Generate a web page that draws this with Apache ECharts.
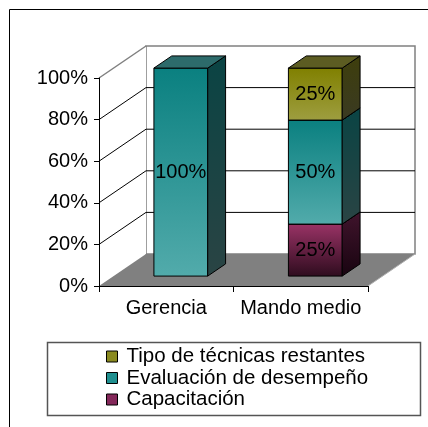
<!DOCTYPE html>
<html>
<head>
<meta charset="utf-8">
<script src="https://cdn.jsdelivr.net/npm/echarts@6/dist/echarts.min.js"></script>
<style>html,body{margin:0;padding:0;background:#fff;}#c{width:428px;height:427px;}</style>
</head>
<body>
<div id="c"></div>
<script>
var categories = ['Gerencia', 'Mando medio'];
var capacitacion = [0, 25];
var evaluacion = [100, 50];
var tipo = [0, 25];
var yTicks = [0, 20, 40, 60, 80, 100];
var seriesNames = ['Capacitación', 'Evaluación de desempeño', 'Tipo de técnicas restantes'];

var FONT = '"Liberation Sans", Arial, sans-serif';
var DEPTH = [47, -32];
var FRONT = 0.31, BACK = 0.69, BARW = 0.40;

var palettes = [
  { legend: '#84285a', front: ['#9a3366', '#2e0c1e'], side: ['#40142c', '#180410'], top: '#5a1c3c' },
  { legend: '#1f8f8f', front: ['#0a8080', '#52abab'], side: ['#0a4444', '#2a4444'], top: '#2d6b6b' },
  { legend: '#8a8a20', front: ['#808000', '#9e9e40'], side: ['#3e3e0c', '#3a3a22'], top: '#5c5c22' }
];

var raw = [capacitacion, evaluacion, tipo];
var stacked = raw.map(function () { return []; });
categories.forEach(function (c, i) {
  var acc = 0;
  raw.forEach(function (arr, s) {
    stacked[s].push([i, acc, acc + arr[i], arr[i]]);
    acc += arr[i];
  });
});

function grad(c) {
  return new echarts.graphic.LinearGradient(0, 0, 0, 1, [{ offset: 0, color: c[0] }, { offset: 1, color: c[1] }]);
}

function barRender(pal) {
  return function (params, api) {
    var cat = api.value(0), s = api.value(1), e = api.value(2), v = api.value(3);
    if (!v) return { type: 'group', children: [] };
    var p0 = api.coord([cat, s]);
    var p1 = api.coord([cat, e]);
    var band = api.size([1, 0])[0];
    var w = band * BARW;
    var sx = DEPTH[0] * FRONT, sy = DEPTH[1] * FRONT;
    var bx = DEPTH[0] * (BACK - FRONT), by = DEPTH[1] * (BACK - FRONT);
    var xl = p0[0] - w / 2 + sx, xr = p0[0] + w / 2 + sx;
    var yb = p0[1] + sy, yt = p1[1] + sy;
    var ln = { stroke: '#000', lineWidth: 1 };
    return {
      type: 'group',
      children: [
        { type: 'polygon', shape: { points: [[xl, yt], [xr, yt], [xr, yb], [xl, yb]] },
          style: Object.assign({ fill: grad(pal.front) }, ln) },
        { type: 'polygon', shape: { points: [[xr, yb], [xr, yt], [xr + bx, yt + by], [xr + bx, yb + by]] },
          style: Object.assign({ fill: grad(pal.side) }, ln) },
        { type: 'polygon', shape: { points: [[xl, yt], [xr, yt], [xr + bx, yt + by], [xl + bx, yt + by]] },
          style: Object.assign({ fill: pal.top }, ln) },
        { type: 'text', z2: 10, style: { text: v + '%', x: (xl + xr) / 2, y: (yt + yb) / 2,
          align: 'center', verticalAlign: 'middle', fill: '#000', font: '20px ' + FONT } }
      ]
    };
  };
}

function wallRender(params, api) {
  var cs = params.coordSys;
  var x0 = cs.x, x1 = cs.x + cs.width;
  var dx = DEPTH[0], dy = DEPTH[1];
  var y0 = api.coord([0, yTicks[0]])[1];
  var yT = api.coord([0, yTicks[yTicks.length - 1]])[1];
  var kids = [];
  kids.push({ type: 'rect', shape: { x: x0 + dx, y: yT + dy, width: x1 - x0, height: y0 - yT },
    style: { fill: '#fff', stroke: '#808080', lineWidth: 1.5 } });
  kids.push({ type: 'polygon', shape: { points: [[x0, y0], [x0, yT], [x0 + dx, yT + dy], [x0 + dx, y0 + dy]] },
    style: { fill: '#fff', stroke: null } });
  kids.push({ type: 'line', shape: { x1: x0, y1: yT, x2: x0 + dx, y2: yT + dy },
    style: { stroke: '#808080', lineWidth: 1.5 } });
  for (var i = 1; i < yTicks.length - 1; i++) {
    var y = api.coord([0, yTicks[i]])[1];
    kids.push({ type: 'polyline', shape: { points: [[x0, y], [x0 + dx, y + dy], [x1 + dx, y + dy]] },
      style: { stroke: '#000', lineWidth: 1, fill: null } });
  }
  kids.push({ type: 'polygon', shape: { points: [[x0, y0], [x1, y0], [x1 + dx, y0 + dy], [x0 + dx, y0 + dy]] },
    style: { fill: '#808080', stroke: null } });
  kids.push({ type: 'line', shape: { x1: x1, y1: y0, x2: x1 + dx, y2: y0 + dy },
    style: { stroke: '#b0b0b0', lineWidth: 1 } });
  return { type: 'group', children: kids };
}

var series = [{
  type: 'custom', name: '_walls', z: 1, silent: true,
  renderItem: wallRender, data: [[0, 0]], encode: { x: 0, y: 1 }
}];
seriesNames.forEach(function (n, s) {
  series.push({
    type: 'custom', name: n, z: 3,
    itemStyle: { color: palettes[s].legend },
    renderItem: barRender(palettes[s]),
    data: stacked[s], encode: { x: 0, y: [1, 2] }
  });
});

var chart = echarts.init(document.getElementById('c'), null, { renderer: 'canvas' });
chart.setOption({
  animation: false,
  backgroundColor: '#fff',
  grid: { left: 99, right: 60, top: 78, bottom: 141, containLabel: false },
  xAxis: {
    type: 'category', data: categories, z: 5,
    axisLine: { lineStyle: { color: '#000', width: 1 } },
    axisTick: { show: true, length: 6, lineStyle: { color: '#000' } },
    axisLabel: { interval: 0, hideOverlap: false, margin: 12, color: '#000', fontSize: 20, fontFamily: FONT }
  },
  yAxis: {
    type: 'value', min: 0, max: 100, interval: 20, z: 5,
    axisLine: { show: true, lineStyle: { color: '#000', width: 1 } },
    axisTick: { show: true, length: 5, lineStyle: { color: '#000' } },
    splitLine: { show: false },
    axisLabel: { formatter: '{value}%', margin: 11, color: '#000', fontSize: 20, fontFamily: FONT }
  },
  legend: {
    data: [seriesNames[2], seriesNames[1], seriesNames[0]],
    orient: 'vertical', left: 106, top: 346, padding: [0, 0, 0, 0],
    icon: 'rect', itemWidth: 11, itemHeight: 11, itemGap: 0.5,
    itemStyle: { borderColor: '#000', borderWidth: 1 },
    textStyle: { color: '#000', fontSize: 20.5, fontFamily: FONT, lineHeight: 21, padding: [0, 0, 0, 4] },
    selectedMode: false
  },
  graphic: [
    { type: 'rect', silent: true, shape: { x: 9.5, y: 9.5, width: 600, height: 600 },
      style: { fill: null, stroke: '#000', lineWidth: 1 }, z: 0 },
    { type: 'rect', silent: true, shape: { x: 47.5, y: 342.5, width: 373, height: 73 },
      style: { fill: null, stroke: '#555', lineWidth: 1.5 }, z: 0 }
  ],
  series: series
});
</script>
</body>
</html>
